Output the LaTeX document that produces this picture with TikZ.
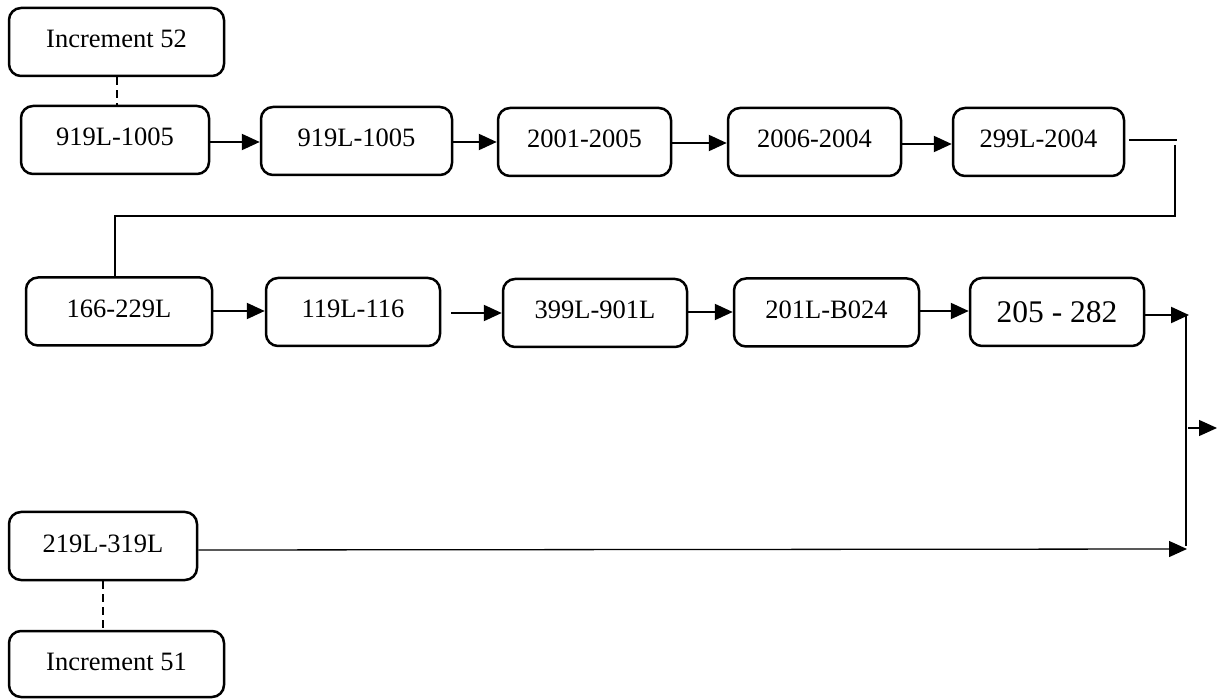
\documentclass[tikz,border=0pt]{standalone}
\usepackage{fontspec}
\setmainfont{Liberation Serif}
\usetikzlibrary{arrows.meta,calc}
\tikzset{
  box/.style={draw, line width=2.5pt, rounded corners=12pt, inner sep=0pt,
    minimum height=68pt, font=\fontsize{26.5}{30}\selectfont,
    text height=19pt, text depth=7pt},
  bigbox/.style={box, font=\fontsize{31.5}{36}\selectfont, text height=21.5pt, text depth=0pt},
  flow/.style={line width=2.2pt, -{Triangle[length=18pt,width=16pt]}},
  thin/.style={line width=1.2pt},
  thinarrow/.style={line width=1.3pt, -{Triangle[length=18pt,width=16pt]}},
  dashlink/.style={line width=2pt, dash pattern=on 8pt off 5pt}
}
\begin{document}
\begin{tikzpicture}[x=1pt,y=-1pt]
\useasboundingbox (0,0) rectangle (1219,700);
% top row
\node[box, minimum width=215pt] (inc52) at (116.5,42) {Increment 52};
\node[box, minimum width=188pt] (a1) at (115,140) {919L-1005};
\node[box, minimum width=191pt] (a2) at (356.5,141) {919L-1005};
\node[box, minimum width=173pt] (a3) at (584.5,142) {2001-2005};
\node[box, minimum width=173pt] (a4) at (814.5,142) {2006-2004};
\node[box, minimum width=171pt] (a5) at (1038.5,142) {299L-2004};
% second row
\node[box, minimum width=186pt] (b1) at (119,311.5) {166-229L};
\node[box, minimum width=174pt] (b2) at (353,312) {119L-116};
\node[box, minimum width=184pt] (b3) at (595,313) {399L-901L};
\node[box, minimum width=185pt] (b4) at (826.5,312.5) {201L-B024};
\node[bigbox, minimum width=174pt] (b5) at (1057,312) {205 - 282};
% bottom
\node[box, minimum width=188pt] (c1) at (103,546) {219L-319L};
\node[box, minimum width=215pt, minimum height=66pt] (inc51) at (116.5,664) {Increment 51};
% coordinates
\coordinate (t1) at (1129,140);
\coordinate (t2) at (1177,140);
\coordinate (v1) at (1175,145);
\coordinate (v2) at (115,216);
\coordinate (r1) at (1189,315);
\coordinate (rtop) at (1186,316);
\coordinate (rbot) at (1186,546);
\coordinate (rmid) at (1188,428);
\coordinate (out) at (1217,428);
\coordinate (rin) at (1187,549);
% dashed links
\draw[dashlink] (inc52.south) -- (inc52.south |- a1.north);
\draw[dashlink] (c1.south) -- (c1.south |- inc51.north);
% top row arrows
\draw[flow] (a1.east |- 0,142) -- (a2.west |- 0,142);
\draw[flow] (a2.east |- 0,142) -- (a3.west |- 0,142);
\draw[flow] (a3.east |- 0,143) -- (a4.west |- 0,143);
\draw[flow] (a4.east |- 0,144) -- (a5.west |- 0,144);
% wrap connector
\draw[thin] (t1) -- (t2);
\draw[thin] (v1) |- (v2) -- (v2 |- b1.north);
% second row arrows
\draw[flow] (b1.east |- 0,311) -- (b2.west |- 0,311);
\draw[flow] (b2.east |- 0,313) ++(10,0) -- (b3.west |- 0,313);
\draw[flow] (b3.east |- 0,312) -- (b4.west |- 0,312);
\draw[flow] (b4.east |- 0,311) -- (b5.west |- 0,311);
\draw[flow] (b5.east |- r1) -- (r1);
% right merge
\draw[thin] (rtop) -- (rbot);
\draw[thinarrow] (rmid) -- (out);
\draw[thinarrow] (c1.east |- 0,550) -- (rin);
\end{tikzpicture}
\end{document}
